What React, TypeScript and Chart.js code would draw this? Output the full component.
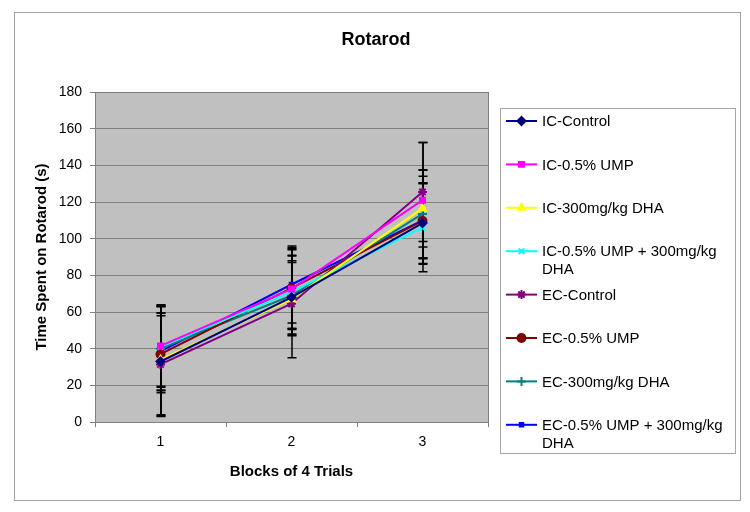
import React, { useEffect, useRef } from 'react';
import { Chart, registerables } from 'chart.js';
import { drawPoint } from 'chart.js/helpers';

Chart.register(...registerables);

const categories = ['1', '2', '3'];
const seriesNames = [
  'IC-Control',
  'IC-0.5% UMP',
  'IC-300mg/kg DHA',
  'IC-0.5% UMP + 300mg/kg DHA',
  'EC-Control',
  'EC-0.5% UMP',
  'EC-300mg/kg DHA',
  'EC-0.5% UMP + 300mg/kg DHA',
];
const icControl = [33, 68, 108.5];
const icUmp = [41.5, 72.5, 121];
const icDha = [34, 67, 116.5];
const icUmpDha = [41, 71, 106];
const ecControl = [31.4, 64.5, 125.5];
const ecUmp = [37, 73, 109.7];
const ecDha = [40, 69, 113.5];
const ecUmpDha = [38.5, 75, 110];

const icControlErr = [30, 20, 22];
const icUmpErr = [22, 22, 31.5];
const icDhaErr = [30, 20, 21];
const icUmpDhaErr = [22, 20, 24];
const ecControlErr = [28, 29.5, 27];
const ecUmpErr = [21, 22, 20.7];
const ecDhaErr = [23, 21.5, 24];
const ecUmpDhaErr = [21, 21, 24];

const seriesValues = [icControl, icUmp, icDha, icUmpDha, ecControl, ecUmp, ecDha, ecUmpDha];
const seriesErrors = [icControlErr, icUmpErr, icDhaErr, icUmpDhaErr, ecControlErr, ecUmpErr, ecDhaErr, ecUmpDhaErr];
const seriesColors = ['#000080', '#FF00FF', '#FFFF00', '#00FFFF', '#800080', '#800000', '#008080', '#0000FF'];
const seriesMarkers = ['rectRot', 'rect', 'triangle', 'crossRot', 'star', 'circle', 'cross', 'rect'];
const seriesMarkerSizes = [4, 3.5, 4, 4, 4.5, 4, 4.5, 2.5];

const yTicks = { min: 0, max: 180, step: 20 };
const titleText = 'Rotarod';
const xTitle = 'Blocks of 4 Trials';
const yTitle = 'Time Spent on Rotarod (s)';

const FONT = '"Liberation Sans", Arial, sans-serif';

const decorPlugin = {
  id: 'decor',
  beforeDraw(chart: any) {
    const { ctx, chartArea: a } = chart;
    ctx.save();
    ctx.fillStyle = '#ffffff';
    ctx.fillRect(0, 0, chart.width, chart.height);
    ctx.fillStyle = '#C0C0C0';
    ctx.fillRect(a.left, a.top, a.right - a.left, a.bottom - a.top);
    ctx.restore();
  },
  beforeDatasetsDraw(chart: any) {
    const { ctx } = chart;
    const ys = chart.scales.y;
    ctx.save();
    ctx.strokeStyle = '#000000';
    ctx.lineWidth = 1.5;
    chart.data.datasets.forEach((ds: any, i: number) => {
      const meta = chart.getDatasetMeta(i);
      const errs = seriesErrors[i];
      meta.data.forEach((pt: any, j: number) => {
        const v = ds.data[j];
        const e = errs[j];
        const x = Math.round(pt.x);
        const yt = ys.getPixelForValue(v + e);
        const yb = ys.getPixelForValue(v - e);
        ctx.beginPath();
        ctx.moveTo(x, yt);
        ctx.lineTo(x, yb);
        ctx.moveTo(x - 4.5, yt);
        ctx.lineTo(x + 4.5, yt);
        ctx.moveTo(x - 4.5, yb);
        ctx.lineTo(x + 4.5, yb);
        ctx.stroke();
      });
    });
    ctx.restore();
  },
  afterDraw(chart: any) {
    const { ctx, chartArea: a } = chart;
    ctx.save();
    ctx.strokeStyle = '#808080';
    ctx.lineWidth = 1;
    ctx.strokeRect(Math.round(a.left) + 0.5, Math.round(a.top) + 0.5, Math.round(a.right - a.left), Math.round(a.bottom - a.top));
    ctx.strokeStyle = '#A0A0A0';
    ctx.strokeRect(14.5, 12.5, 726, 488);
    ctx.fillStyle = '#000';
    ctx.font = `bold 18px ${FONT}`;
    ctx.textAlign = 'center';
    ctx.textBaseline = 'middle';
    ctx.fillText(titleText, 376, 40);
    ctx.strokeStyle = '#A6A6A6';
    ctx.lineWidth = 1;
    ctx.strokeRect(500.5, 108.5, 235, 345);
    ctx.font = `15px ${FONT}`;
    ctx.textAlign = 'left';
    const maxW = 190;
    chart.data.datasets.forEach((ds: any, i: number) => {
      const y = 121 + i * 43.4;
      ctx.strokeStyle = seriesColors[i];
      ctx.lineWidth = 2;
      ctx.beginPath();
      ctx.moveTo(506, y);
      ctx.lineTo(537, y);
      ctx.stroke();
      ctx.fillStyle = seriesColors[i];
      drawPoint(ctx, { pointStyle: seriesMarkers[i], radius: seriesMarkerSizes[i], rotation: 0, borderWidth: 2 } as any, 521.5, y);
      const words = ds.label.split(' ');
      const lines: string[] = [];
      let cur = '';
      words.forEach((w: string) => {
        const t = cur ? cur + ' ' + w : w;
        if (ctx.measureText(t).width > maxW && cur) {
          lines.push(cur);
          cur = w;
        } else cur = t;
      });
      if (cur) lines.push(cur);
      ctx.fillStyle = '#000';
      lines.forEach((ln, k) => ctx.fillText(ln, 542, y + 1 + k * 18));
    });
    ctx.restore();
  },
};

export default function App() {
  const ref = useRef<HTMLCanvasElement | null>(null);
  useEffect(() => {
    if (!ref.current) return;
    const chart = new Chart(ref.current, {
      type: 'line',
      data: {
        labels: categories,
        datasets: seriesNames.map((name, i) => ({
          label: name,
          data: seriesValues[i],
          borderColor: seriesColors[i],
          backgroundColor: seriesColors[i],
          borderWidth: 2,
          pointStyle: seriesMarkers[i] as any,
          pointRadius: seriesMarkerSizes[i],
          pointBorderWidth: 2,
          pointHoverRadius: seriesMarkerSizes[i],
          tension: 0,
          fill: false,
        })),
      },
      options: {
        responsive: false,
        maintainAspectRatio: false,
        animation: false,
        events: [],
        layout: { padding: { left: 20, right: 262, top: 92, bottom: 20 } },
        plugins: {
          legend: { display: false },
          title: { display: false },
          tooltip: { enabled: false },
        },
        scales: {
          x: {
            type: 'category',
            offset: true,
            grid: {
              offset: true,
              drawOnChartArea: false,
              drawTicks: true,
              tickLength: 5,
              color: '#808080',
            },
            border: { color: '#808080' },
            ticks: { color: '#000', font: { family: FONT, size: 14 }, padding: 7 },
            title: {
              display: true,
              text: xTitle,
              color: '#000',
              font: { family: FONT, size: 15, weight: 'bold' },
              padding: { top: 0, bottom: 11 },
            },
            afterFit: (s: any) => {
              s.height = 70;
            },
          },
          y: {
            min: yTicks.min,
            max: yTicks.max,
            ticks: {
              stepSize: yTicks.step,
              color: '#000',
              font: { family: FONT, size: 14 },
              padding: 8,
            },
            grid: { color: '#808080', tickLength: 5, lineWidth: 1 },
            border: { color: '#808080' },
            title: {
              display: true,
              text: yTitle,
              color: '#000',
              font: { family: FONT, size: 15, weight: 'bold' },
              padding: { top: 13, bottom: 0 },
            },
            afterFit: (s: any) => {
              s.width = 75;
            },
          },
        },
      },
      plugins: [decorPlugin],
    });
    return () => chart.destroy();
  }, []);
  return (
    <div style={{ position: 'absolute', left: 0, top: 0, width: 750, height: 512, background: '#fff' }}>
      <canvas ref={ref} width={750} height={512} />
    </div>
  );
}
